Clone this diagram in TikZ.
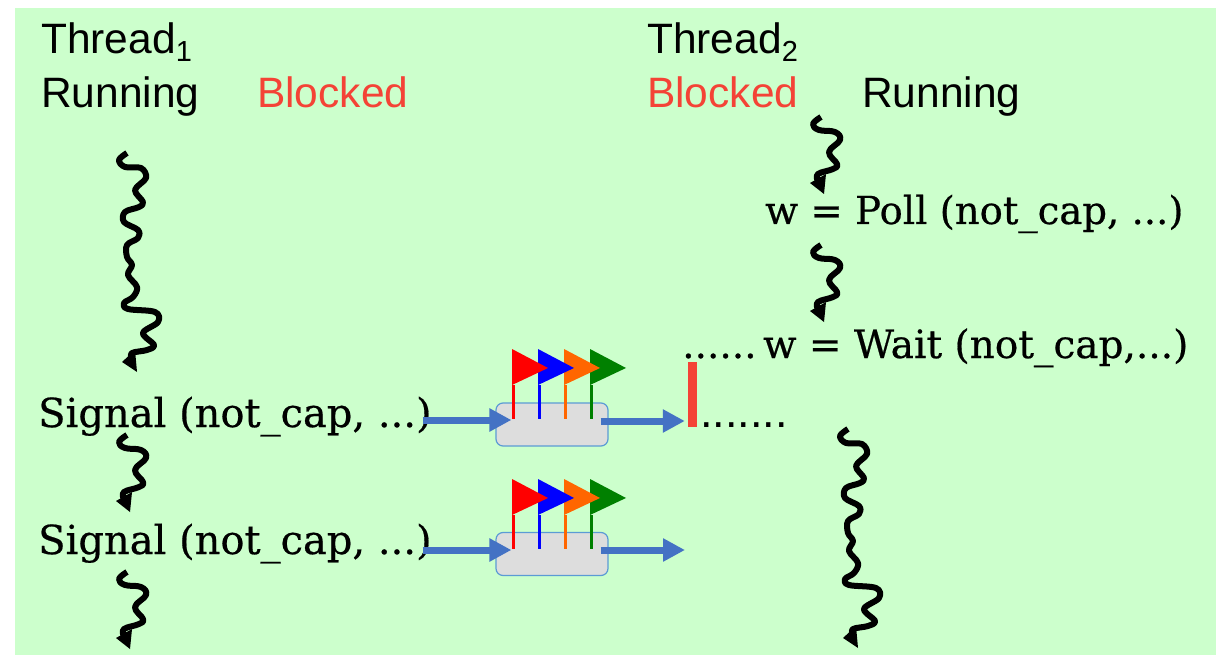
\documentclass[tikz,border=0pt]{standalone}
\usepackage{fontspec}
\setmainfont{Liberation Sans}
\newfontfamily\apifont[FakeBold=0.5]{DejaVu Serif}
\usetikzlibrary{arrows.meta, positioning}
\definecolor{Fondo}{RGB}{204, 255, 204}
\definecolor{Rojo}{RGB}{244, 67, 54}
\definecolor{Azul}{RGB}{68, 114, 196}
\definecolor{Borde}{RGB}{91, 155, 213}
\definecolor{Gris}{RGB}{221, 221, 221}
\definecolor{Naranja}{RGB}{255, 102, 0}
\definecolor{Verde}{RGB}{0, 128, 0}
\newcommand{\threadsub}[1]{\raisebox{-8pt}{\fontsize{29}{29}\selectfont #1}}

\begin{document}
\begin{tikzpicture}[
        x=1pt, y=-1pt,
        head/.style={
            anchor=base west,
            inner sep=0pt,
            font=\fontsize{42.5}{42.5}\selectfont
        },
        api/.style={
            anchor=base west,
            inner sep=0pt,
            font=\apifont\fontsize{40}{40}\selectfont
        },
        apismall/.style={
            api,
            font=\apifont\fontsize{38.6}{38.6}\selectfont
        },
        box/.style={
            rectangle,
            draw=Borde,
            fill=Gris,
            rounded corners=7pt,
            line width=1.2pt,
            minimum width=112pt,
            minimum height=43pt
        },
        bar/.style={
            rectangle,
            fill=Rojo,
            inner sep=0pt,
            minimum width=9pt,
            minimum height=65pt
        },
        flow/.style={
            -{Triangle[length=22pt,width=22pt]},
            line width=7pt,
            draw=Azul
        },
        squig/.style={
            line width=6pt,
            line join=round,
            draw=black
        },
        flag/.pic={
            \foreach \x/\c in {78/Verde, 52/Naranja, 26/blue, 0/red} {
                \draw[\c, line width=3pt] (\x+1,36) -- (\x+1,70);
                \fill[\c] (\x,0) -- (\x+36,19) -- (\x,36) -- cycle;
            }
        },
        shortsquig/.pic={
            \draw[squig] plot[smooth, tension=0.7] coordinates {
                (0,0) (-8,7) (-2,13) (14,15) (19,23) (8,35) (16,47) (12,52) (-3,57) (-3,64)};
            \fill (-11,66) -- (3,77) -- (5,57) -- cycle;
        },
        longsquig/.pic={
            \draw[squig] plot[smooth, tension=0.6] coordinates {
                (0,0) (-8,7) (-2,14) (14,15) (19,25) (8,37) (16,49) (12,54) (-2,59) (-3,69)
                (11,77) (11,85) (0,92) (0,104) (5,112) (1,122) (10,134) (6,144) (-3,150)
                (1,156) (28,159) (31,169) (16,180) (27,192) (20,197) (5,200) (5,206)};
            \fill (-5,209) -- (10,219) -- (8,197) -- cycle;
        }
    ]
        \useasboundingbox (0,0) rectangle (1216,655);
        \fill[Fondo] (15,8) rectangle (1216,655);

        % Nodes
        \node[head] (threadone) at (41,54) {Thread\threadsub{1}};
        \node[head] (runone) at (41,108) {Running};
        \node[head, text=Rojo] (blockone) at (257,108) {Blocked};
        \node[head] (threadtwo) at (647,54) {Thread\threadsub{2}};
        \node[head, text=Rojo] (blocktwo) at (647,108) {Blocked};
        \node[head] (runtwo) at (862,108) {Running};

        \node[api] (signalone) at (38,427) {Signal (not\_cap, ...)};
        \node[api] (signaltwo) at (38,554) {Signal (not\_cap, ...)};
        \node[apismall] (poll) at (765,224) {w = Poll (not\_cap, ...)};
        \node[api, font=\apifont\fontsize{39}{39}\selectfont] (wait) at (682,358) {......\hspace{-10pt} w = Wait (not\_cap,...)};
        \node[head, font=\fontsize{45}{45}\selectfont] (dots) at (700,427) {.......};

        \node[box] (boxone) at (552,424.5) {};
        \node[box] (boxtwo) at (552,554) {};
        \node[bar] (barone) at (692.5,394.5) {};
        \coordinate (endtwo) at (685,550);

        % Flags
        \pic at (512,349) {flag};
        \pic at (512,479) {flag};

        % Squiggles
        \pic at (127,153) {longsquig};
        \pic at (848,429) {longsquig};
        \pic at (127,435) {shortsquig};
        \pic at (127,572) {shortsquig};
        \pic at (821,117) {shortsquig};
        \pic at (821,245) {shortsquig};

        % Paths
        \draw[flow] ([xshift=-9pt,yshift=7pt]signalone.base east) -- ([xshift=16pt,yshift=4.5pt]boxone.west);
        \draw[flow] ([xshift=-8pt,yshift=3.5pt]boxone.east) -- ([shift={(-3pt,-26.5pt)}]barone.west);
        \draw[flow] ([xshift=-9pt,yshift=4pt]signaltwo.base east) -- ([xshift=16pt,yshift=4pt]boxtwo.west);
        \draw[flow] ([xshift=-8pt,yshift=4pt]boxtwo.east) -- (endtwo);
    \end{tikzpicture}
\end{document}
